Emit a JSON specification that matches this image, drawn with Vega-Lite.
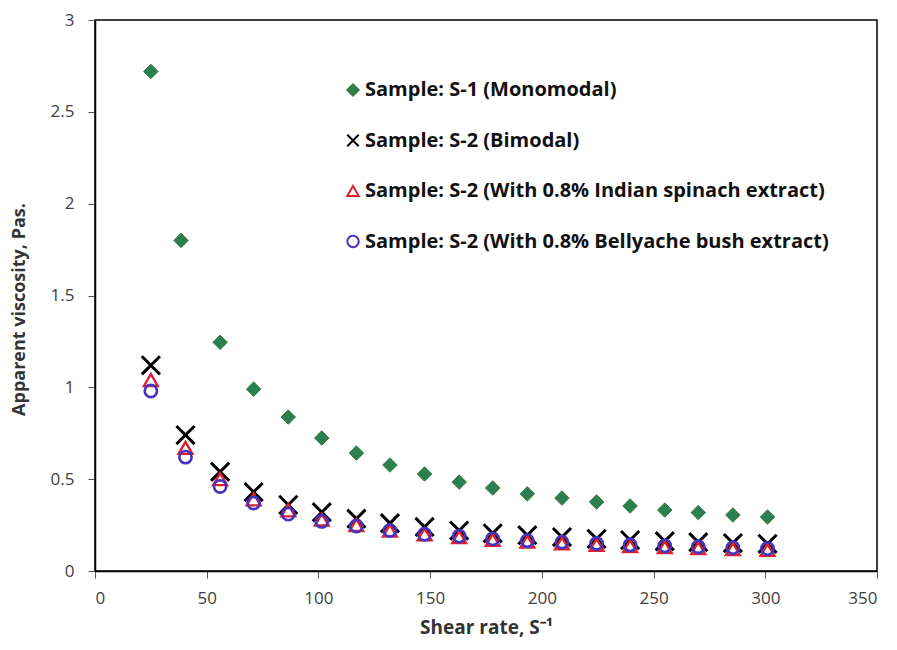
{
  "$schema": "https://vega.github.io/schema/vega-lite/v6.json",
  "width": 782,
  "height": 551,
  "autosize": "none",
  "padding": {"left": 95, "top": 20, "right": 20, "bottom": 79},
  "background": "white",
  "config": {
    "view": {"stroke": "black", "strokeWidth": 1.5},
    "font": "Open Sans",
    "legend": {
      "orient": "none", "legendX": 248, "legendY": 60,
      "title": null,
      "labelFont": "Open Sans", "labelFontSize": 20, "labelFontWeight": "bold", "labelColor": "#111",
      "labelLimit": 700, "rowPadding": 30.5, "labelOffset": 2,
      "symbolSize": 130, "symbolStrokeWidth": 2
    }
  },
  "data": {
    "values": [
      {"s": "Sample: S-1 (Monomodal)", "x": 25, "y": 2.72},
      {"s": "Sample: S-1 (Monomodal)", "x": 38.5, "y": 1.80},
      {"s": "Sample: S-1 (Monomodal)", "x": 56, "y": 1.245},
      {"s": "Sample: S-1 (Monomodal)", "x": 71, "y": 0.99},
      {"s": "Sample: S-1 (Monomodal)", "x": 86.5, "y": 0.838},
      {"s": "Sample: S-1 (Monomodal)", "x": 101.5, "y": 0.724},
      {"s": "Sample: S-1 (Monomodal)", "x": 117, "y": 0.642},
      {"s": "Sample: S-1 (Monomodal)", "x": 132, "y": 0.577},
      {"s": "Sample: S-1 (Monomodal)", "x": 147.5, "y": 0.528},
      {"s": "Sample: S-1 (Monomodal)", "x": 163, "y": 0.484},
      {"s": "Sample: S-1 (Monomodal)", "x": 178, "y": 0.452},
      {"s": "Sample: S-1 (Monomodal)", "x": 193.5, "y": 0.42},
      {"s": "Sample: S-1 (Monomodal)", "x": 209, "y": 0.397},
      {"s": "Sample: S-1 (Monomodal)", "x": 224.5, "y": 0.376},
      {"s": "Sample: S-1 (Monomodal)", "x": 239.5, "y": 0.354},
      {"s": "Sample: S-1 (Monomodal)", "x": 255, "y": 0.332},
      {"s": "Sample: S-1 (Monomodal)", "x": 270, "y": 0.318},
      {"s": "Sample: S-1 (Monomodal)", "x": 285.5, "y": 0.305},
      {"s": "Sample: S-1 (Monomodal)", "x": 301, "y": 0.294},

      {"s": "Sample: S-2 (Bimodal)", "x": 25, "y": 1.12},
      {"s": "Sample: S-2 (Bimodal)", "x": 40.5, "y": 0.74},
      {"s": "Sample: S-2 (Bimodal)", "x": 56, "y": 0.54},
      {"s": "Sample: S-2 (Bimodal)", "x": 71, "y": 0.43},
      {"s": "Sample: S-2 (Bimodal)", "x": 86.5, "y": 0.36},
      {"s": "Sample: S-2 (Bimodal)", "x": 101.5, "y": 0.32},
      {"s": "Sample: S-2 (Bimodal)", "x": 117, "y": 0.285},
      {"s": "Sample: S-2 (Bimodal)", "x": 132, "y": 0.26},
      {"s": "Sample: S-2 (Bimodal)", "x": 147.5, "y": 0.24},
      {"s": "Sample: S-2 (Bimodal)", "x": 163, "y": 0.22},
      {"s": "Sample: S-2 (Bimodal)", "x": 178, "y": 0.205},
      {"s": "Sample: S-2 (Bimodal)", "x": 193.5, "y": 0.195},
      {"s": "Sample: S-2 (Bimodal)", "x": 209, "y": 0.185},
      {"s": "Sample: S-2 (Bimodal)", "x": 224.5, "y": 0.175},
      {"s": "Sample: S-2 (Bimodal)", "x": 239.5, "y": 0.168},
      {"s": "Sample: S-2 (Bimodal)", "x": 255, "y": 0.162},
      {"s": "Sample: S-2 (Bimodal)", "x": 270, "y": 0.157},
      {"s": "Sample: S-2 (Bimodal)", "x": 285.5, "y": 0.152},
      {"s": "Sample: S-2 (Bimodal)", "x": 301, "y": 0.148},

      {"s": "Sample: S-2 (With 0.8% Indian spinach extract)", "x": 25, "y": 1.04},
      {"s": "Sample: S-2 (With 0.8% Indian spinach extract)", "x": 40.5, "y": 0.67},
      {"s": "Sample: S-2 (With 0.8% Indian spinach extract)", "x": 56, "y": 0.50},
      {"s": "Sample: S-2 (With 0.8% Indian spinach extract)", "x": 71, "y": 0.39},
      {"s": "Sample: S-2 (With 0.8% Indian spinach extract)", "x": 86.5, "y": 0.33},
      {"s": "Sample: S-2 (With 0.8% Indian spinach extract)", "x": 101.5, "y": 0.28},
      {"s": "Sample: S-2 (With 0.8% Indian spinach extract)", "x": 117, "y": 0.25},
      {"s": "Sample: S-2 (With 0.8% Indian spinach extract)", "x": 132, "y": 0.22},
      {"s": "Sample: S-2 (With 0.8% Indian spinach extract)", "x": 147.5, "y": 0.20},
      {"s": "Sample: S-2 (With 0.8% Indian spinach extract)", "x": 163, "y": 0.185},
      {"s": "Sample: S-2 (With 0.8% Indian spinach extract)", "x": 178, "y": 0.17},
      {"s": "Sample: S-2 (With 0.8% Indian spinach extract)", "x": 193.5, "y": 0.16},
      {"s": "Sample: S-2 (With 0.8% Indian spinach extract)", "x": 209, "y": 0.15},
      {"s": "Sample: S-2 (With 0.8% Indian spinach extract)", "x": 224.5, "y": 0.143},
      {"s": "Sample: S-2 (With 0.8% Indian spinach extract)", "x": 239.5, "y": 0.135},
      {"s": "Sample: S-2 (With 0.8% Indian spinach extract)", "x": 255, "y": 0.13},
      {"s": "Sample: S-2 (With 0.8% Indian spinach extract)", "x": 270, "y": 0.125},
      {"s": "Sample: S-2 (With 0.8% Indian spinach extract)", "x": 285.5, "y": 0.12},
      {"s": "Sample: S-2 (With 0.8% Indian spinach extract)", "x": 301, "y": 0.115},

      {"s": "Sample: S-2 (With 0.8% Bellyache bush extract)", "x": 25, "y": 0.98},
      {"s": "Sample: S-2 (With 0.8% Bellyache bush extract)", "x": 40.5, "y": 0.62},
      {"s": "Sample: S-2 (With 0.8% Bellyache bush extract)", "x": 56, "y": 0.46},
      {"s": "Sample: S-2 (With 0.8% Bellyache bush extract)", "x": 71, "y": 0.37},
      {"s": "Sample: S-2 (With 0.8% Bellyache bush extract)", "x": 86.5, "y": 0.31},
      {"s": "Sample: S-2 (With 0.8% Bellyache bush extract)", "x": 101.5, "y": 0.27},
      {"s": "Sample: S-2 (With 0.8% Bellyache bush extract)", "x": 117, "y": 0.245},
      {"s": "Sample: S-2 (With 0.8% Bellyache bush extract)", "x": 132, "y": 0.22},
      {"s": "Sample: S-2 (With 0.8% Bellyache bush extract)", "x": 147.5, "y": 0.20},
      {"s": "Sample: S-2 (With 0.8% Bellyache bush extract)", "x": 163, "y": 0.19},
      {"s": "Sample: S-2 (With 0.8% Bellyache bush extract)", "x": 178, "y": 0.175},
      {"s": "Sample: S-2 (With 0.8% Bellyache bush extract)", "x": 193.5, "y": 0.165},
      {"s": "Sample: S-2 (With 0.8% Bellyache bush extract)", "x": 209, "y": 0.157},
      {"s": "Sample: S-2 (With 0.8% Bellyache bush extract)", "x": 224.5, "y": 0.15},
      {"s": "Sample: S-2 (With 0.8% Bellyache bush extract)", "x": 239.5, "y": 0.142},
      {"s": "Sample: S-2 (With 0.8% Bellyache bush extract)", "x": 255, "y": 0.137},
      {"s": "Sample: S-2 (With 0.8% Bellyache bush extract)", "x": 270, "y": 0.132},
      {"s": "Sample: S-2 (With 0.8% Bellyache bush extract)", "x": 285.5, "y": 0.127},
      {"s": "Sample: S-2 (With 0.8% Bellyache bush extract)", "x": 301, "y": 0.122}
    ]
  },
  "encoding": {
    "x": {
      "field": "x", "type": "quantitative",
      "scale": {"domain": [0, 350], "nice": false, "zero": false},
      "axis": {
        "values": [0, 50, 100, 150, 200, 250, 300, 350],
        "title": "Shear rate, S\u207b\u00b9",
        "grid": false,
        "domainColor": "black", "domainWidth": 1.5,
        "tickColor": "#555", "tickSize": 7, "tickWidth": 1,
        "labelFont": "Open Sans", "labelFontSize": 17, "labelColor": "#404040", "labelPadding": 12,
        "titleFont": "Open Sans", "titleFontSize": 19, "titleFontWeight": "bold", "titleColor": "#333", "titlePadding": 12
      }
    },
    "y": {
      "field": "y", "type": "quantitative",
      "scale": {"domain": [0, 3], "nice": false},
      "axis": {
        "values": [0, 0.5, 1, 1.5, 2, 2.5, 3],
        "format": "~g",
        "title": "Apparent viscosity, Pas.",
        "grid": false,
        "domainColor": "black", "domainWidth": 1.5,
        "tickColor": "#555", "tickSize": 7, "tickWidth": 1,
        "labelFont": "Open Sans", "labelFontSize": 17, "labelColor": "#404040", "labelPadding": 14,
        "titleFont": "Open Sans", "titleFontSize": 18, "titleFontWeight": "bold", "titleColor": "#333", "titlePadding": 22,
        "titleY": 289
      }
    },
    "shape": {
      "field": "s", "type": "nominal",
      "scale": {
        "domain": ["Sample: S-1 (Monomodal)", "Sample: S-2 (Bimodal)", "Sample: S-2 (With 0.8% Indian spinach extract)", "Sample: S-2 (With 0.8% Bellyache bush extract)"],
        "range": ["diamond", "M-1,-1L1,1M-1,1L1,-1", "triangle-up", "circle"]
      }
    },
    "stroke": {
      "field": "s", "type": "nominal",
      "scale": {
        "domain": ["Sample: S-1 (Monomodal)", "Sample: S-2 (Bimodal)", "Sample: S-2 (With 0.8% Indian spinach extract)", "Sample: S-2 (With 0.8% Bellyache bush extract)"],
        "range": ["#3a7a3a", "#000000", "#e0202a", "#4632c0"]
      }
    },
    "fill": {
      "field": "s", "type": "nominal",
      "scale": {
        "domain": ["Sample: S-1 (Monomodal)", "Sample: S-2 (Bimodal)", "Sample: S-2 (With 0.8% Indian spinach extract)", "Sample: S-2 (With 0.8% Bellyache bush extract)"],
        "range": ["#2a8050", "transparent", "transparent", "transparent"]
      }
    }
  },
  "layer": [
    {
      "transform": [{"filter": "datum.s === 'Sample: S-1 (Monomodal)'"}],
      "mark": {"type": "point", "opacity": 1, "size": 210, "strokeWidth": 1}
    },
    {
      "transform": [{"filter": "datum.s === 'Sample: S-2 (Bimodal)'"}],
      "mark": {"type": "point", "opacity": 1, "size": 330, "strokeWidth": 3}
    },
    {
      "transform": [{"filter": "datum.s === 'Sample: S-2 (With 0.8% Indian spinach extract)'"}],
      "mark": {"type": "point", "opacity": 1, "size": 190, "strokeWidth": 2.4}
    },
    {
      "transform": [{"filter": "datum.s === 'Sample: S-2 (With 0.8% Bellyache bush extract)'"}],
      "mark": {"type": "point", "opacity": 1, "size": 150, "strokeWidth": 2.6}
    }
  ]
}
